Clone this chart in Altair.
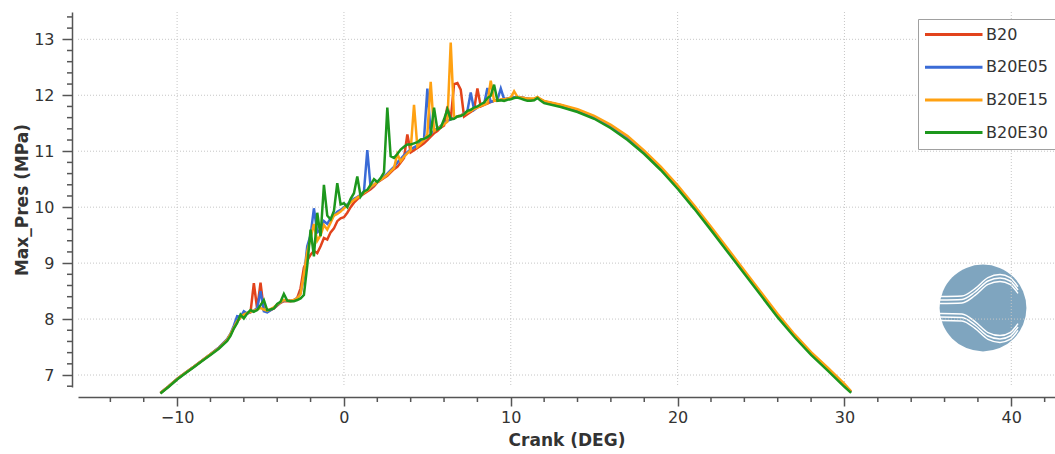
import altair as alt
import pandas as pd

# ---------------- data ----------------
series_names = ["B20", "B20E05", "B20E15", "B20E30"]
series_colors = ["#e2431c", "#3a6bd6", "#ffa112", "#1d971d"]

crank = [
    -11.0, -10.5, -10.0, -9.5, -9.0, -8.5, -8.0, -7.5, -7.0,
    -6.8, -6.6, -6.4, -6.2, -6.0, -5.8, -5.6, -5.4, -5.2, -5.0,
    -4.8, -4.6, -4.4, -4.2, -4.0, -3.8, -3.6, -3.4, -3.2, -3.0,
    -2.8, -2.6, -2.4, -2.2, -2.0, -1.8, -1.6, -1.4, -1.2, -1.0,
    -0.8, -0.6, -0.4, -0.2, 0.0, 0.2, 0.4, 0.6, 0.8, 1.0,
    1.2, 1.4, 1.6, 1.8, 2.0, 2.2, 2.4, 2.6, 2.8, 3.0,
    3.2, 3.4, 3.6, 3.8, 4.0, 4.2, 4.4, 4.6, 4.8, 5.0,
    5.2, 5.4, 5.6, 5.8, 6.0, 6.2, 6.4, 6.6, 6.8, 7.0,
    7.2, 7.4, 7.6, 7.8, 8.0, 8.2, 8.4, 8.6, 8.8, 9.0,
    9.2, 9.4, 9.6, 9.8, 10.0, 10.2, 10.4, 10.6, 10.8, 11.0,
    11.2, 11.4, 11.6, 11.8, 12.0,
    13.0, 14.0, 15.0, 16.0, 17.0, 18.0, 19.0, 20.0, 21.0, 22.0,
    23.0, 24.0, 25.0, 26.0, 27.0, 28.0, 29.0, 30.0, 30.4,
]

b20 = [
    6.68, 6.80, 6.93, 7.04, 7.15, 7.26, 7.37, 7.49, 7.63,
    7.72, 7.84, 7.95, 8.03, 8.08, 8.10, 8.12, 8.64, 8.18, 8.65,
    8.16, 8.13, 8.16, 8.19, 8.24, 8.29, 8.32, 8.32, 8.32, 8.33,
    8.38, 8.55, 8.92, 9.05, 9.15, 9.22, 9.18, 9.30, 9.45, 9.42,
    9.55, 9.62, 9.75, 9.80, 9.82, 9.90, 10.00, 10.08, 10.14, 10.20,
    10.24, 10.28, 10.32, 10.37, 10.44, 10.48, 10.52, 10.56, 10.62, 10.68,
    10.72, 10.80, 10.88, 11.30, 10.98, 11.02, 11.06, 11.10, 11.14, 11.20,
    11.26, 11.32, 11.36, 11.42, 11.46, 11.80, 11.56, 12.20, 12.22, 12.10,
    11.62, 11.66, 11.70, 11.74, 12.12, 11.80, 11.83, 11.85, 11.88, 11.90,
    11.90, 11.92, 11.93, 11.94, 11.95, 11.96, 11.97, 11.96, 11.95, 11.94,
    11.93, 11.93, 11.96, 11.92, 11.89,
    11.82, 11.73, 11.61, 11.45, 11.24, 10.98, 10.69, 10.36, 10.00, 9.62,
    9.23, 8.84, 8.45, 8.06, 7.71, 7.39, 7.11, 6.82, 6.70,
]

b20e05 = [
    6.68, 6.80, 6.93, 7.04, 7.15, 7.26, 7.37, 7.49, 7.64,
    7.74, 7.88, 8.05, 8.04, 8.14, 8.10, 8.13, 8.15, 8.20, 8.50,
    8.14, 8.12, 8.16, 8.20, 8.25, 8.30, 8.33, 8.33, 8.33, 8.34,
    8.37, 8.46, 8.75, 9.30, 9.50, 9.98, 9.55, 9.60, 9.75, 9.70,
    9.80, 9.85, 9.92, 9.95, 10.00, 10.05, 10.10, 10.15, 10.18, 10.22,
    10.28, 11.02, 10.35, 10.40, 10.45, 10.50, 10.55, 10.60, 10.66, 10.72,
    10.80, 10.86, 10.93, 10.98, 11.03, 11.07, 11.10, 11.16, 11.22, 12.12,
    11.32, 11.36, 11.41, 11.45, 11.50, 11.54, 11.57, 11.60, 11.62, 11.64,
    11.67, 11.72, 12.05, 11.74, 11.78, 11.82, 11.84, 12.13, 11.88, 11.90,
    11.92, 12.12, 11.93, 11.94, 11.95, 11.96, 11.97, 11.96, 11.95, 11.94,
    11.93, 11.93, 11.96, 11.92, 11.89,
    11.82, 11.73, 11.61, 11.45, 11.24, 10.98, 10.69, 10.36, 10.00, 9.62,
    9.23, 8.84, 8.45, 8.06, 7.71, 7.39, 7.11, 6.82, 6.70,
]

b20e15 = [
    6.68, 6.80, 6.93, 7.04, 7.15, 7.26, 7.37, 7.48, 7.63,
    7.73, 7.85, 7.96, 8.03, 8.08, 8.11, 8.13, 8.15, 8.17, 8.20,
    8.17, 8.15, 8.18, 8.21, 8.26, 8.30, 8.34, 8.33, 8.33, 8.34,
    8.37, 8.45, 8.80, 9.20, 9.45, 9.70, 9.40, 9.50, 9.68, 9.60,
    9.72, 9.85, 9.88, 9.92, 9.98, 10.03, 10.08, 10.13, 10.17, 10.21,
    10.26, 10.30, 10.36, 10.40, 10.45, 10.49, 10.53, 10.58, 10.64, 10.70,
    10.95, 10.82, 10.90, 10.96, 11.02, 11.83, 11.08, 11.14, 11.20, 11.30,
    12.24, 11.36, 11.40, 11.44, 11.48, 11.53, 12.94, 11.60, 11.62, 11.64,
    11.66, 11.69, 11.72, 11.75, 11.78, 11.81, 11.83, 11.86, 12.26, 11.90,
    11.91, 11.92, 11.93, 11.94, 11.96, 12.07, 11.97, 11.96, 11.95, 11.94,
    11.94, 11.94, 11.97, 11.93, 11.90,
    11.83, 11.75, 11.63, 11.47, 11.27, 11.01, 10.72, 10.39, 10.03, 9.65,
    9.26, 8.87, 8.48, 8.09, 7.73, 7.41, 7.13, 6.84, 6.71,
]

b20e30 = [
    6.67, 6.79, 6.92, 7.03, 7.14, 7.25, 7.36, 7.47, 7.61,
    7.70, 7.83, 7.93, 8.08, 8.01, 8.10, 8.16, 8.13, 8.16, 8.25,
    8.34, 8.16, 8.17, 8.19, 8.27, 8.31, 8.45, 8.33, 8.32, 8.32,
    8.34, 8.37, 8.43, 8.95, 9.60, 9.12, 9.90, 9.48, 10.40, 9.85,
    9.78, 9.93, 10.43, 10.05, 10.07, 10.00, 10.15, 10.25, 10.55, 10.19,
    10.28, 10.31, 10.40, 10.50, 10.45, 10.52, 10.62, 11.78, 10.91, 10.88,
    10.95, 11.03, 11.08, 11.12, 11.12, 11.14, 11.16, 11.21, 11.22, 11.25,
    11.30, 11.78, 11.39, 11.42, 11.57, 11.75, 11.57, 11.58, 11.62, 11.63,
    11.66, 11.72, 11.74, 11.78, 11.80, 11.84, 11.87, 11.95, 11.99, 12.19,
    11.90, 11.91, 11.90, 11.92, 11.93, 11.95, 11.96, 11.94, 11.92, 11.90,
    11.90, 11.91, 11.95, 11.90, 11.86,
    11.79, 11.70, 11.58, 11.41, 11.20, 10.95, 10.66, 10.33, 9.97, 9.59,
    9.20, 8.81, 8.42, 8.03, 7.68, 7.36, 7.08, 6.79, 6.68,
]

x_major = [-10, 0, 10, 20, 30, 40]
x_minor = [-14, -12, -8, -6, -4, -2, 2, 4, 6, 8, 12, 14, 16, 18, 22, 24, 26, 28,
           32, 34, 36, 38, 42]
y_major = [7, 8, 9, 10, 11, 12, 13]
y_minor = [6.8, 7.2, 7.4, 7.6, 7.8, 8.2, 8.4, 8.6, 8.8, 9.2, 9.4, 9.6, 9.8,
           10.2, 10.4, 10.6, 10.8, 11.2, 11.4, 11.6, 11.8, 12.2, 12.4, 12.6,
           12.8, 13.2, 13.4]

# ---------------- layout ----------------
W, H = 977, 375
X_DOMAIN = [-15.94, 42.62]
Y_DOMAIN = [6.786, 13.488]
FONT = "DejaVu Sans"
AXIS_COLOR = "#555555"
TEXT_COLOR = "#333333"
GRID_COLOR = "#c6c6c6"

rows = []
for name, vals in zip(series_names, [b20, b20e05, b20e15, b20e30]):
    assert len(vals) == len(crank)
    for c, p in zip(crank, vals):
        rows.append({"crank": c, "pres": p, "series": name})
df = pd.DataFrame(rows)

xs = alt.Scale(domain=X_DOMAIN, nice=False, zero=False)
ys = alt.Scale(domain=Y_DOMAIN, nice=False, zero=False)

x_axis = alt.Axis(
    values=x_major, title="Crank (DEG)", offset=10, grid=False,
    tickSize=9, tickWidth=1.5, tickColor=AXIS_COLOR,
    domainColor=AXIS_COLOR, domainWidth=1.5,
    labelFont=FONT, labelFontSize=16, labelColor=TEXT_COLOR, labelPadding=3,
    labelFlush=False,
    titleFont=FONT, titleFontSize=17, titleFontWeight="bold",
    titleColor=TEXT_COLOR, titlePadding=7,
)
y_axis = alt.Axis(
    values=y_major, title="Max_Pres (MPa)", offset=6, grid=False,
    tickSize=10, tickWidth=1.5, tickColor=AXIS_COLOR,
    domainColor=AXIS_COLOR, domainWidth=1.5,
    labelFont=FONT, labelFontSize=16, labelColor=TEXT_COLOR, labelPadding=8,
    labelFlush=False,
    titleFont=FONT, titleFontSize=17, titleFontWeight="bold",
    titleColor=TEXT_COLOR, titlePadding=2,
)

X = lambda: alt.X("crank:Q", scale=xs, axis=x_axis)
Y = lambda: alt.Y("pres:Q", scale=ys, axis=y_axis)

# logo (decoration), placed through the same scales
def to_crank(px):
    return X_DOMAIN[0] + (px - 78) / W * (X_DOMAIN[1] - X_DOMAIN[0])

def to_pres(py):
    return Y_DOMAIN[1] - (py - 12) / H * (Y_DOMAIN[1] - Y_DOMAIN[0])

logo_center = (983, 308)
wave_upper = [(940, 300), (962, 299.5), (975, 292), (988, 281), (1000, 278),
              (1010, 281), (1018, 290)]
wave_rows = []
for k, off in enumerate([-3.4, 0, 3.4]):
    for px, py in wave_upper:
        wave_rows.append({"crank": to_crank(px), "pres": to_pres(py + off), "w": f"u{k}"})
        py_low = 2 * 308.5 - py
        wave_rows.append({"crank": to_crank(px), "pres": to_pres(py_low - off), "w": f"l{k}"})
waves_df = pd.DataFrame(wave_rows).sort_values(["w", "crank"])

logo = alt.Chart(pd.DataFrame({"crank": [to_crank(logo_center[0])],
                               "pres": [to_pres(logo_center[1])]})).mark_circle(
    size=7543, color="#7fa5bf", opacity=1
).encode(x=X(), y=Y())

waves = alt.Chart(waves_df).mark_line(
    color="white", strokeWidth=1.5, interpolate="monotone"
).encode(x=X(), y=Y(), detail="w:N")

vgrid = alt.Chart(pd.DataFrame({"crank": x_major})).mark_rule(
    color=GRID_COLOR, strokeDash=[1, 2], strokeWidth=1
).encode(x=X(), y=alt.value(0), y2=alt.value(H))

hgrid = alt.Chart(pd.DataFrame({"pres": y_major})).mark_rule(
    color=GRID_COLOR, strokeDash=[1, 2], strokeWidth=1
).encode(y=Y(), x=alt.value(0), x2=alt.value(W))

lines = alt.Chart(df).mark_line(strokeWidth=2.5, clip=False).encode(
    x=X(), y=Y(),
    color=alt.Color(
        "series:N",
        scale=alt.Scale(domain=series_names, range=series_colors),
        sort=series_names,
        legend=alt.Legend(
            title=None, orient="none", legendX=840, legendY=7,
            direction="vertical", symbolType="stroke", symbolSize=3481,
            symbolStrokeWidth=3, labelFont=FONT, labelFontSize=16,
            labelColor=TEXT_COLOR, labelOffset=2, symbolOffset=-3,
            padding=7, rowPadding=15.7, clipHeight=17,
            strokeColor="#a0a0a0", fillColor="white", cornerRadius=0,
        ),
    ),
)

xminor = alt.Chart(pd.DataFrame({"crank": x_minor})).mark_rule(
    color=AXIS_COLOR, strokeWidth=1.5
).encode(x=X(), y=alt.value(H + 10), y2=alt.value(H + 15))

yminor = alt.Chart(pd.DataFrame({"pres": y_minor})).mark_rule(
    color=AXIS_COLOR, strokeWidth=1.5
).encode(y=Y(), x=alt.value(-6), x2=alt.value(-11))

chart = alt.layer(logo, waves, vgrid, hgrid, lines, xminor, yminor).properties(
    width=W, height=H,
    autosize=alt.AutoSizeParams(type="none"),
    padding={"left": 78, "top": 12, "right": 0, "bottom": 454 - 12 - H},
    background="white",
).configure_view(stroke=None)

chart.save("out.html", embed_options={"renderer": "svg", "actions": False})
